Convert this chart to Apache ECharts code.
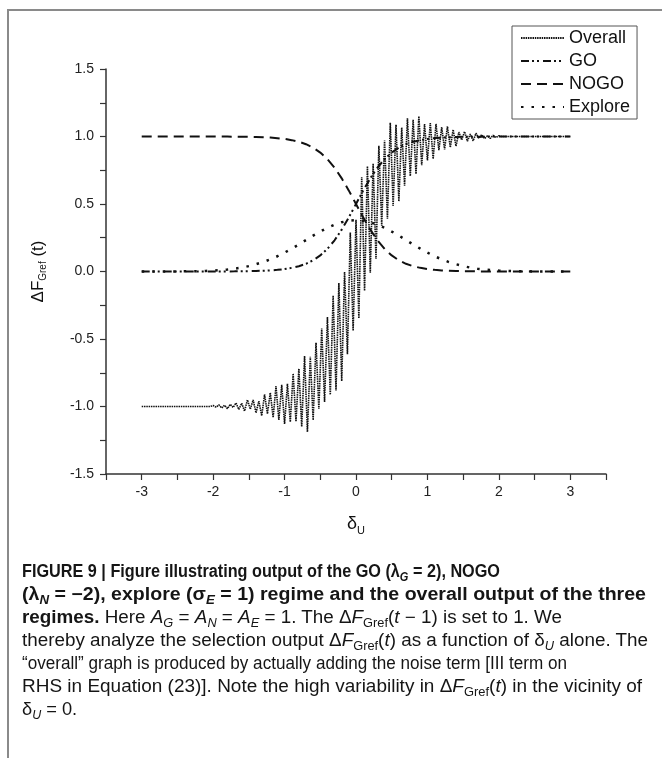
<!DOCTYPE html>
<html>
<head>
<meta charset="utf-8">
<script src="https://cdn.jsdelivr.net/npm/echarts@6/dist/echarts.min.js"></script>
<style>
  body { margin: 0; background: #fff; }
  #frame { position: absolute; left: 7px; top: 9px; width: 720px; height: 820px; border-left: 2px solid #8a8a8a; border-top: 2px solid #8a8a8a; }
  #main { position: absolute; left: 0; top: 0; width: 662px; height: 758px; }
  .cap { position: absolute; left: 22px; line-height: 20px; font-family: 'Liberation Sans', Arial, sans-serif; font-size: 17.5px; white-space: nowrap; color: #151515; transform-origin: 0 50%; }
  .cap sub { font-size: 0.68em; vertical-align: -0.3em; line-height: 0; }
</style>
</head>
<body>
<div id="frame"></div>
<div id="main"></div>
<div class="cap" data-w="478" style="top:561px"><b>FIGURE 9 | Figure illustrating output of the GO (λ<sub><i>G</i></sub> = 2), NOGO</b></div>
<div class="cap" data-w="624" style="top:584px"><b>(λ<sub><i>N</i></sub> = −2), explore (σ<sub><i>E</i></sub> = 1) regime and the overall output of the three</b></div>
<div class="cap" data-w="540" style="top:607px"><b>regimes.</b> Here <i>A<sub>G</sub></i> = <i>A<sub>N</sub></i> = <i>A<sub>E</sub></i> = 1. The Δ<i>F</i><sub>Gref</sub>(<i>t</i> − 1) is set to 1. We</div>
<div class="cap" data-w="626" style="top:630px">thereby analyze the selection output Δ<i>F</i><sub>Gref</sub>(<i>t</i>) as a function of δ<sub><i>U</i></sub> alone. The</div>
<div class="cap" data-w="545" style="top:653px">“overall” graph is produced by actually adding the noise term [III term on</div>
<div class="cap" data-w="620" style="top:676px">RHS in Equation (23)]. Note the high variability in Δ<i>F</i><sub>Gref</sub>(<i>t</i>) in the vicinity of</div>
<div class="cap" style="top:699px">δ<sub><i>U</i></sub> = 0.</div>
<script>
  // smooth regime curves, sampled every 0.1 from -3 to 3
  var curveStart = -3, curveStep = 0.1
  var goValues = [
    0, 0, 0, 0, 0, 0, 0, 0, 0, 0,
    0.0003, 0.0005, 0.0007, 0.0011, 0.0017, 0.0025, 0.0037, 0.0055, 0.0082, 0.0121,
    0.018, 0.027, 0.039, 0.057, 0.083, 0.119, 0.168, 0.231, 0.310, 0.401,
    0.5, 0.599, 0.690, 0.769, 0.832, 0.881, 0.917, 0.943, 0.961, 0.973,
    0.982, 0.988, 0.992, 0.995, 0.996, 0.998, 0.998, 0.999, 0.999, 1.0,
    1, 1, 1, 1, 1, 1, 1, 1, 1, 1, 1
  ]
  var nogoValues = [
    1, 1, 1, 1, 1, 1, 1, 1, 1, 1,
    0.9997, 0.9995, 0.9993, 0.9989, 0.9983, 0.9975, 0.9963, 0.9945, 0.9918, 0.9879,
    0.982, 0.973, 0.961, 0.943, 0.917, 0.881, 0.832, 0.769, 0.690, 0.599,
    0.5, 0.401, 0.310, 0.231, 0.168, 0.119, 0.083, 0.057, 0.039, 0.027,
    0.018, 0.0121, 0.0082, 0.0055, 0.0037, 0.0025, 0.0017, 0.0011, 0.0007, 0.0005,
    0.0003, 0, 0, 0, 0, 0, 0, 0, 0, 0, 0
  ]
  var exploreValues = [
    0, 0, 0, 0.0003, 0.0004, 0.0007, 0.0012, 0.0019, 0.003, 0.0046,
    0.007, 0.010, 0.015, 0.021, 0.029, 0.040, 0.054, 0.070, 0.090, 0.113,
    0.140, 0.169, 0.200, 0.233, 0.266, 0.296, 0.324, 0.347, 0.365, 0.376,
    0.38, 0.376, 0.365, 0.347, 0.324, 0.296, 0.266, 0.233, 0.200, 0.169,
    0.140, 0.113, 0.090, 0.070, 0.054, 0.040, 0.029, 0.021, 0.015, 0.010,
    0.007, 0.0046, 0.003, 0.0019, 0.0012, 0.0007, 0.0004, 0.0003, 0, 0, 0
  ]

  // noisy overall output, sampled every 0.04 from -3 to 3
  var overallStart = -3, overallStep = 0.04
  var overallValues = [
    -1, -1, -1, -1, -1, -1, -1, -1, -1, -1, -1, -1, -1, -1, -1, -1, -1, -1, -1, -1, -1, -1, -1, -1, -1,
    -0.993, -1.005, -0.988, -1.011, -0.991, -1.016, -0.984, -1.007, -0.974, -1.022,
    -0.976, -1.034, -0.951, -1.020, -0.951, -1.047, -0.960, -1.069, -0.910, -1.054,
    -0.898, -1.081, -0.849, -1.100, -0.840, -1.130, -0.832, -1.115, -0.756, -1.111,
    -0.720, -1.149, -0.626, -1.188, -0.632, -1.101, -0.528, -1.018, -0.423, -0.966,
    -0.338, -0.913, -0.179, -0.882, -0.085, -0.812, -0.003, -0.613, 0.289, -0.439,
    0.383, -0.347, 0.700, -0.142, 0.780, -0.009, 0.800, 0.092, 0.931, 0.340,
    0.971, 0.391, 1.102, 0.486, 1.087, 0.520, 1.066, 0.636, 1.135, 0.707,
    1.123, 0.722, 1.150, 0.787, 1.092, 0.823, 1.099, 0.834, 1.093, 0.899,
    1.069, 0.904, 1.076, 0.919, 1.051, 0.929, 1.033, 0.974, 1.036, 0.965,
    1.018, 0.968, 1.024, 0.986, 1.013, 0.984, 1.006, 0.986, 1.009, 0.992, 1.006,
    1, 1, 1, 1, 1, 1, 1, 1, 1, 1, 1, 1, 1, 1, 1, 1, 1, 1, 1, 1, 1, 1, 1, 1, 1
  ]

  var seriesNames = ['Overall', 'GO', 'NOGO', 'Explore']

  function pairs(start, step, values) {
    return values.map(function (v, i) {
      return [Math.round((start + i * step) * 100) / 100, v]
    })
  }

  // condensed caption face: fit each line to the width it has in the figure
  var capLines = Array.prototype.slice.call(document.querySelectorAll('.cap'))
  var ratios = []
  capLines.forEach(function (el) {
    if (!el.dataset.w) return
    var r = Number(el.dataset.w) / el.getBoundingClientRect().width
    ratios.push(r)
    el.style.transform = 'scaleX(' + r + ')'
  })
  var lastLine = capLines[capLines.length - 1]
  lastLine.style.transform = 'scaleX(' + (ratios.reduce(function (a, b) { return a + b }, 0) / ratios.length) + ')'

  var font = "'Liberation Sans', Arial, sans-serif"
  var chart = echarts.init(document.getElementById('main'))
  chart.setOption({
    animation: false,
    grid: { left: 106, right: 56, top: 69, bottom: 284 },
    legend: {
      orient: 'vertical',
      left: 512,
      top: 26,
      data: seriesNames,
      itemWidth: 43,
      itemHeight: 14,
      itemGap: 5,
      padding: [3, 7, 3, 8],
      borderColor: '#555',
      borderWidth: 1,
      itemStyle: { opacity: 0 },
      textStyle: { fontFamily: font, fontSize: 18, color: '#111', lineHeight: 18 }
    },
    xAxis: {
      type: 'value',
      min: -3.5,
      max: 3.5,
      interval: 0.5,
      name: '{d|δ}{s|U}',
      nameLocation: 'middle',
      nameGap: 39,
      nameTextStyle: {
        rich: {
          d: { fontFamily: font, fontSize: 18, color: '#111' },
          s: { fontFamily: font, fontSize: 11, color: '#111', padding: [12, 0, 0, 0] }
        }
      },
      axisLine: { onZero: false, lineStyle: { color: '#333', width: 1.5 } },
      axisTick: { length: 6, lineStyle: { color: '#333', width: 1.2 } },
      axisLabel: {
        interval: 0,
        margin: 11,
        fontFamily: font,
        fontSize: 14,
        color: '#222',
        formatter: function (v) {
          return Math.abs(v - Math.round(v)) < 1e-6 ? String(Math.round(v)) : ''
        }
      },
      splitLine: { show: false }
    },
    yAxis: {
      type: 'value',
      min: -1.5,
      max: 1.5,
      interval: 0.25,
      name: 'ΔF{s|Gref} (t)',
      nameLocation: 'middle',
      nameGap: 58,
      nameTextStyle: {
        fontFamily: font,
        fontSize: 17,
        color: '#111',
        rich: {
          s: { fontFamily: font, fontSize: 10, color: '#111', padding: [10, 0, 0, 0] }
        }
      },
      axisLine: { onZero: false, lineStyle: { color: '#333', width: 1.5 } },
      axisTick: { length: 6, lineStyle: { color: '#333', width: 1.2 } },
      axisLabel: {
        interval: 0,
        margin: 12,
        fontFamily: font,
        fontSize: 14,
        color: '#222',
        showMinLabel: true,
        showMaxLabel: true,
        formatter: function (v) {
          return Math.abs(v * 2 - Math.round(v * 2)) < 1e-6 ? (Math.abs(v) < 1e-9 ? '0.0' : v.toFixed(1)) : ''
        }
      },
      splitLine: { show: false }
    },
    series: [
      {
        name: 'Overall',
        type: 'line',
        symbol: 'none',
        data: pairs(overallStart, overallStep, overallValues),
        lineStyle: { color: '#111', width: 1.6, type: [1.5, 0.8] },
        itemStyle: { color: '#111' }
      },
      {
        name: 'GO',
        type: 'line',
        symbol: 'none',
        data: pairs(curveStart, curveStep, goValues),
        lineStyle: { color: '#111', width: 2, type: [8, 3, 2, 3, 2, 4] },
        itemStyle: { color: '#111' }
      },
      {
        name: 'NOGO',
        type: 'line',
        symbol: 'none',
        data: pairs(curveStart, curveStep, nogoValues),
        lineStyle: { color: '#111', width: 2, type: [10, 6] },
        itemStyle: { color: '#111' }
      },
      {
        name: 'Explore',
        type: 'line',
        symbol: 'none',
        data: pairs(curveStart, curveStep, exploreValues),
        lineStyle: { color: '#111', width: 2.5, type: [2.5, 8] },
        itemStyle: { color: '#111' }
      }
    ]
  })
</script>
</body>
</html>
